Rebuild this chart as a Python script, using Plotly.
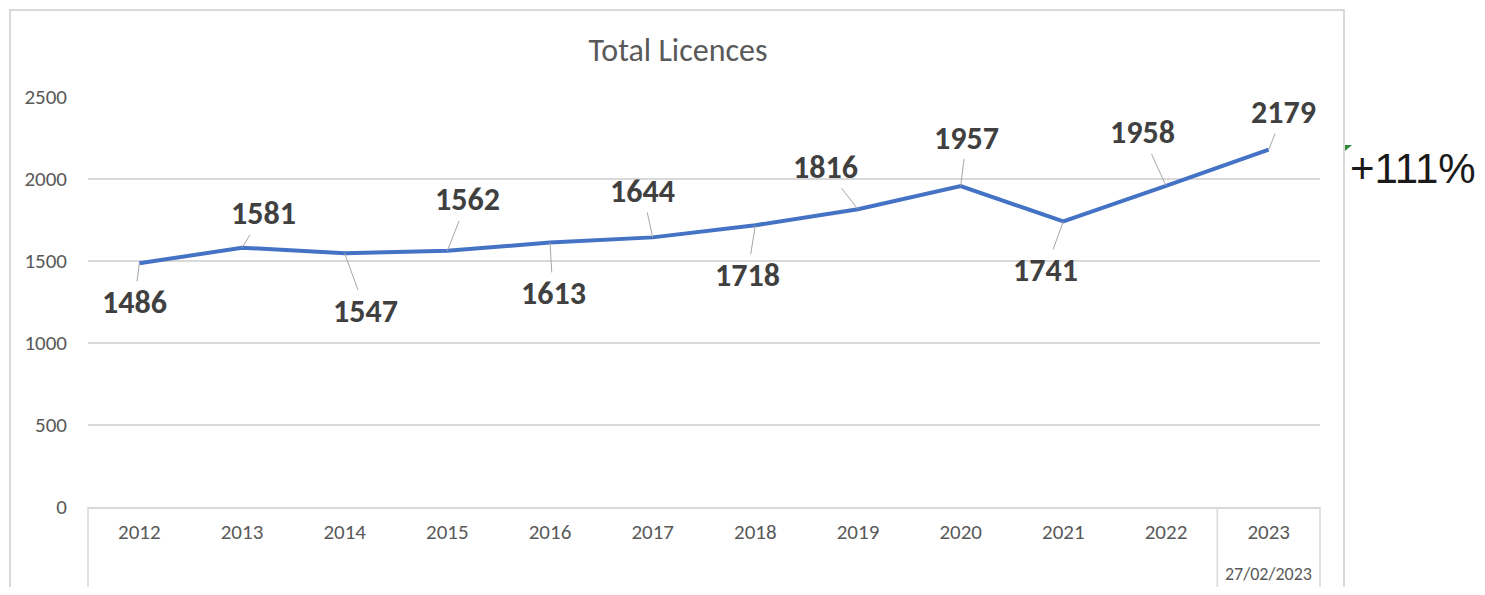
import plotly.graph_objects as go

years = ["2012", "2013", "2014", "2015", "2016", "2017", "2018", "2019", "2020", "2021", "2022", "2023"]
licences = [1486, 1581, 1547, 1562, 1613, 1644, 1718, 1816, 1957, 1741, 1958, 2179]
date_note = "27/02/2023"
growth_text = "+111%"
title_text = "Total Licences"
y_ticks = [0, 500, 1000, 1500, 2000, 2500]

# label offsets (pixels) for leader-lined data labels
label_dx = [-5, 21, 21, 20, 3, -10, -8, -33, 6, -18, -24, 15]
label_dy = [39, -34, 58, -51, 51, -46, 50, -42, -48, 49, -53, -37]

OFF = 8  # default page body margin
W, H = 1485 - 2 * OFF, 595 - 2 * OFF
L, T = 88 - OFF, 97 - OFF
R = W - (1320 - OFF)
B = H - (507 - OFF)
PW, PH = W - L - R, H - T - B


def px_x(p):
    return (p - OFF - L) / PW


def px_y(p):
    return (H - B - (p - OFF)) / PH


FONT = "Carlito, Lato, sans-serif"
GRID = "#d9d9d9"

fig = go.Figure()
fig.add_trace(go.Scatter(
    x=years, y=licences, mode="lines",
    line=dict(color="#4472C4", width=4),
    hoverinfo="x+y", showlegend=False,
))

annotations = []
for i, (v, dx, dy) in enumerate(zip(licences, label_dx, label_dy)):
    annotations.append(dict(
        x=i, y=v, xref="x", yref="y", text=f"<b>{v}</b>",
        showarrow=True, arrowhead=0, arrowwidth=1, arrowcolor="#a6a6a6",
        ax=dx, ay=dy, standoff=0,
        font=dict(family=FONT, size=32, color="#404040"),
    ))

annotations.append(dict(
    x=len(years) - 1, y=px_y(586), xref="x", yref="paper", text=date_note,
    showarrow=False, xanchor="center", yanchor="bottom", borderpad=0,
    font=dict(family=FONT, size=18, color="#595959"),
))
annotations.append(dict(
    x=px_x(1348), y=px_y(168), xref="paper", yref="paper", text=growth_text,
    showarrow=False, xanchor="left", yanchor="middle",
    font=dict(family="Liberation Sans, Arial, sans-serif", size=42, color="#1a1a1a"),
))

shapes = [
    # outer chart border
    dict(type="rect", xref="paper", yref="paper",
         x0=px_x(10), x1=px_x(1344), y0=px_y(10), y1=px_y(640),
         line=dict(color=GRID, width=2), layer="below"),
    # axis box lines
    dict(type="line", xref="paper", yref="paper", x0=0, x1=0, y0=0, y1=px_y(590),
         line=dict(color=GRID, width=1.5)),
    dict(type="line", xref="x", yref="paper", x0=10.5, x1=10.5, y0=0, y1=px_y(590),
         line=dict(color=GRID, width=1.5)),
    dict(type="line", xref="paper", yref="paper", x0=1, x1=1, y0=0, y1=px_y(590),
         line=dict(color=GRID, width=1.5)),
    # small green marker
    dict(type="path", xref="paper", yref="paper",
         path=f"M {px_x(1345)},{px_y(145)} L {px_x(1352)},{px_y(145)} L {px_x(1345)},{px_y(151)} Z",
         fillcolor="#2e8b3a", line=dict(width=0)),
]

fig.update_layout(
    width=W, height=H,
    margin=dict(l=L, r=R, t=T, b=B),
    paper_bgcolor="white", plot_bgcolor="white",
    title=dict(text=title_text, x=px_x(678), xref="paper", xanchor="center",
               y=1 - (50 - OFF) / H, yref="container", yanchor="middle",
               font=dict(family=FONT, size=32, color="#595959")),
    xaxis=dict(type="category", range=[-0.5, 11.5], showgrid=False,
               showline=True, linecolor=GRID, linewidth=1.5,
               ticks="", ticklabelstandoff=5,
               tickfont=dict(family=FONT, size=21, color="#595959"),
               fixedrange=True),
    yaxis=dict(range=[0, 2500], tickvals=y_ticks, showgrid=True, gridcolor=GRID,
               gridwidth=1.5, zeroline=False, showline=False, ticks="",
               ticklabelstandoff=20,
               tickfont=dict(family=FONT, size=21, color="#595959"),
               fixedrange=True),
    annotations=annotations,
    shapes=shapes,
    showlegend=False,
)

fig.write_html("out.html")
